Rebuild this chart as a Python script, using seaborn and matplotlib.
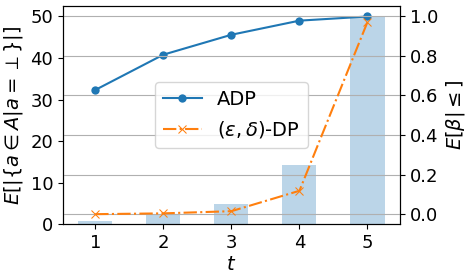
import matplotlib
matplotlib.use('Agg')
import matplotlib.pyplot as plt
import seaborn as sns
import pandas as pd

t = [1, 2, 3, 4, 5]
bar_vals = [0.7, 2.5, 4.8, 14.2, 49.8]
adp = [32.3, 40.8, 45.6, 49.0, 50.0]
dp = [0.0, 0.004, 0.015, 0.118, 0.97]

df = pd.DataFrame({'t': t, 'bar': bar_vals, 'adp': adp, 'dp': dp})

plt.rcParams['font.size'] = 14
plt.rcParams['xtick.labelsize'] = 13
plt.rcParams['ytick.labelsize'] = 13

fig, ax = plt.subplots(figsize=(4.66, 2.78), dpi=100)
fig.subplots_adjust(left=0.135, right=0.858, top=0.978, bottom=0.194)

# barras no eixo esquerdo
sns.barplot(data=df, x='t', y='bar', native_scale=True, width=0.5,
            color='C0', alpha=0.3, saturation=1, ax=ax)
sns.lineplot(data=df, x='t', y='adp', marker='o', markeredgewidth=0,
             color='C0', label='ADP', ax=ax, legend=False)
ax.set_xlabel('$t$', labelpad=2)
ax.set_ylabel(r'$E[|\{a \in A | a = \perp\}|]$', labelpad=4)
ax.set_xticks(t)
ax.set_yticks([0, 10, 20, 30, 40, 50])
ax.set_xlim(0.525, 5.475)

# eixo direito
ax2 = ax.twinx()
sns.lineplot(data=df, x='t', y='dp', marker='x', linestyle='-.',
             color='C1', markeredgecolor='C1', label=r'$(\varepsilon, \delta)$-DP',
             ax=ax2, legend=False)
ax2.set_ylim(-0.05, 1.05)
ax2.set_yticks([0.0, 0.2, 0.4, 0.6, 0.8, 1.0])
ax2.set_ylabel(r'$E[\beta | \leq]$', labelpad=4)
ax2.grid(True, axis='y', color='#b0b0b0')

h1, l1 = ax.get_legend_handles_labels()
h2, l2 = ax2.get_legend_handles_labels()
ax2.legend(h1 + h2, l1 + l2, loc='center')

plt.savefig('out.png', dpi=100)
